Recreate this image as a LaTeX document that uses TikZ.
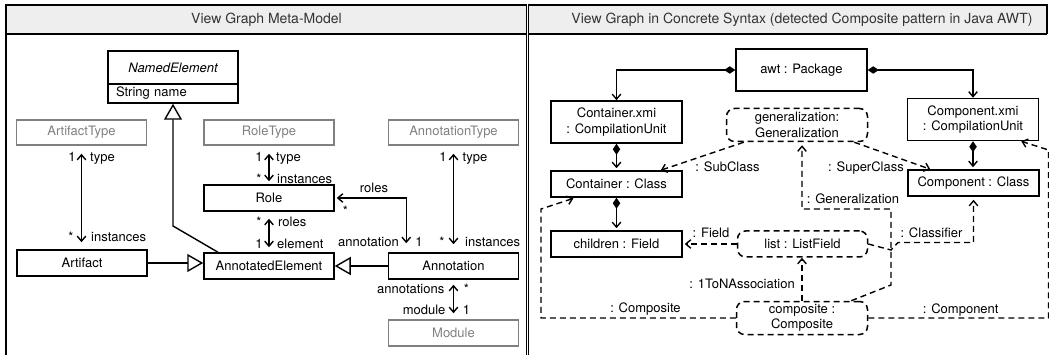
\documentclass[tikz,border=0pt]{standalone}
\usepackage{fontspec}
\setmainfont{TeX Gyre Heros}
\usetikzlibrary{arrows.meta,calc}
\definecolor{pale}{RGB}{128,128,128}
\definecolor{titlefill}{RGB}{238,238,238}
\newcommand{\boxfont}{\fontsize{13}{15.5}\selectfont}
\newcommand{\headfont}{\fontsize{14}{16}\selectfont}
\begin{document}
\begin{tikzpicture}[x=1pt,y=-1pt,
  every node/.style={font=\boxfont},
  cls/.style={draw, line width=1.5pt, minimum width=130pt, minimum height=26pt, inner sep=1pt, align=center},
  ghost/.style={cls, draw=pale, text=pale},
  inst/.style={cls, minimum width=131pt},
  rolebox/.style={inst, dash pattern=on 6pt off 4pt, rounded corners=8pt},
  lbl/.style={inner sep=0pt, anchor=base},
  lblw/.style={inner sep=0pt, anchor=base west},
  lble/.style={inner sep=0pt, anchor=base east},
  head/.style={font=\headfont, text=black!80, inner sep=0pt},
  frame/.style={line width=1.6pt},
  nav/.style={line width=1.4pt, {Straight Barb[length=5pt,width=8.5pt]}-{Straight Barb[length=5pt,width=8.5pt]}},
  inherit/.style={line width=1.4pt, -{Triangle[length=16pt,width=18pt,fill=white]}},
  part/.style={line width=1.4pt, {Diamond[length=11pt,width=7.5pt]}-{Straight Barb[length=5pt,width=8.5pt]}},
  link/.style={line width=1.4pt, dash pattern=on 6pt off 4pt, -{Straight Barb[length=5pt,width=8.5pt]}},
]
\useasboundingbox (0,0) rectangle (1049,355);

% ---------- panel frames ----------
\fill[titlefill] (6,5) rectangle (526.5,34);
\draw[frame] (6,355) -- (6,5) -- (526.5,5) -- (526.5,355);
\draw[frame] (6,34) -- (526.5,34);
\node[head] (headL) at (266.5,20) {View Graph Meta-Model};

\fill[titlefill] (528.5,5) rectangle (1047,34);
\draw[frame] (528.5,355) -- (528.5,5) -- (1047,5) -- (1047,34);
\draw[frame] (528.5,34) -- (1047,34);
\node[head] (headR) at (802,20) {View Graph in Concrete Syntax (detected Composite pattern in Java AWT)};

% ---------- meta-model ----------
\node[cls, minimum height=33pt, font=\boxfont\itshape] (ne) at (173,67.5) {NamedElement};
\node[cls, minimum height=19pt, text width=114pt, align=left] (neattr) at (173,93.5) {String name};

\node[ghost, minimum height=25pt] (artT) at (81.5,132.5) {ArtifactType};
\node[ghost, minimum height=25pt] (roleT) at (269,132.5) {RoleType};
\node[ghost, minimum height=25pt] (annT) at (453.5,132.5) {AnnotationType};

\node[cls] (role) at (269,198) {Role};
\node[cls] (artifact) at (82,263) {Artifact};
\node[cls] (ae) at (269,266) {AnnotatedElement};
\node[cls] (annot) at (453.5,266) {Annotation};
\node[ghost] (module) at (453.5,333) {Module};

% generalizations
\coordinate (bend) at (173,226);
\draw[inherit] ([xshift=-51pt]ae.north) -- (bend) -- (neattr.south);
\draw[inherit] (artifact.east) -- (ae.west |- artifact.east);
\draw[inherit] (annot.west) -- (ae.east);

% associations
\draw[nav, shorten <=8pt, shorten >=7pt] (artT.south) -- (artT.south |- artifact.north);
\draw[nav, shorten <=8pt, shorten >=3pt] (roleT.south) -- (role.north);
\draw[nav, shorten <=7pt, shorten >=5pt] (role.south) -- (ae.north);
\draw[nav, shorten <=8pt, shorten >=8pt] (annT.south) -- (annot.north);
\draw[nav, shorten <=2pt, shorten >=9pt] (role.east) -| ([xshift=18.5pt]annot.north west);
\draw[nav, shorten <=5pt, shorten >=6pt] (annot.south) -- (module.north);

% multiplicities and role names
\node[lbl]  (m1) at (72,161.7) {1};
\node[lblw] (m2) at (90,161.7) {type};
\node[lbl]  (m3) at (71,241.7) {*};
\node[lblw] (m4) at (91,241.7) {instances};

\node[lbl]  (m5) at (259,161.7) {1};
\node[lblw] (m6) at (276,161.7) {type};
\node[lbl]  (m7) at (259,183.7) {*};
\node[lblw] (m8) at (277,183.7) {instances};
\node[lbl]  (m9) at (259,226.7) {*};
\node[lblw] (m10) at (278,226.7) {roles};
\node[lbl]  (m11) at (259,248.7) {1};
\node[lblw] (m12) at (277,248.7) {element};

\node[lbl]  (m13) at (374,192.2) {roles};
\node[lbl]  (m14) at (345.5,216) {*};
\node[lble] (m15) at (399,246.3) {annotation};
\node[lbl]  (m16) at (419,246.3) {1};

\node[lbl]  (m17) at (443,161.7) {1};
\node[lblw] (m18) at (462.5,161.7) {type};
\node[lbl]  (m19) at (442,246.3) {*};
\node[lblw] (m20) at (465,246.3) {instances};

\node[lble] (m21) at (444.5,293.7) {annotations};
\node[lbl]  (m22) at (466.5,293.7) {*};
\node[lble] (m23) at (445.6,314) {module};
\node[lbl]  (m24) at (466.5,314) {1};

% ---------- concrete syntax ----------
\node[inst, minimum height=42pt] (awt) at (801.5,70) {awt : Package};
\node[inst, minimum height=42pt] (cxmi) at (616.5,122) {Container.xmi\\: CompilationUnit};
\node[inst, minimum height=42pt] (pxmi) at (973,119.5) {Component.xmi\\: CompilationUnit};
\node[rolebox, minimum width=141pt, minimum height=33pt] (genR) at (797,125) {generalization:\\Generalization};
\node[inst] (cclass) at (616.5,184) {Container : Class};
\node[inst] (pclass) at (973.5,183) {Component : Class};
\node[inst] (children) at (616.5,244) {children : Field};
\node[rolebox, minimum width=130pt] (list) at (802.5,244) {list : ListField};
\node[rolebox, minimum height=33pt] (compo) at (802,318) {composite :\\Composite};

% containment
\draw[part] (awt.west) -| (cxmi.north);
\draw[part] (awt.east) -| (pxmi.north);
\draw[part, shorten >=2pt] (cxmi.south) -- (cclass.north);
\draw[part, shorten >=2pt] (pxmi.south) -- (pxmi.south |- pclass.north);
\draw[part, shorten >=2pt] (cclass.south) -- (children.north);

% role bindings
\coordinate (g1) at (891,285);
\coordinate (g2) at (891,209);
\coordinate (c1) at (891,250);
\coordinate (c2) at (898,242.5);
\coordinate (k2) at (541,209);
\coordinate (p2) at (1048.5,150);

\draw[link] ([xshift=18pt]genR.south west) -- ([xshift=-22pt]cclass.north east);
\draw[link] ([xshift=-14pt]genR.south east) -- ([xshift=23pt]pclass.north west);
\draw[link, shorten >=3pt] ([xshift=-17pt]compo.north east) -- (g1) -- (g2) -| ([xshift=5pt]genR.south);
\draw[link] (compo.north) -- (compo.north |- list.south);
\draw[link, shorten >=2pt] (list.west) -- (children.east);
\draw[link, shorten >=3pt] (list.east) -- (c1) -- (c2) -| (pclass.south);
\draw[link, shorten >=2pt] (compo.west) -| (k2) -- ([xshift=25pt]cclass.south west);
\draw[link] (compo.east) -| (p2) -- ([xshift=-18pt]pxmi.south east);

\node[lbl]  (r1) at (727.5,171.7) {: SubClass};
\node[lbl]  (r2) at (866,171.7) {: SuperClass};
\node[lbl]  (r3) at (853,203.3) {: Generalization};
\node[lbl]  (r4) at (711,237.7) {: Field};
\node[lbl]  (r5) at (931.5,237.7) {: Classifier};
\node[lble] (r6) at (795,288.3) {: 1ToNAssociation};
\node[lbl]  (r7) at (645.5,312.7) {: Composite};
\node[lbl]  (r8) at (960.7,313) {: Component};
\end{tikzpicture}
\end{document}
